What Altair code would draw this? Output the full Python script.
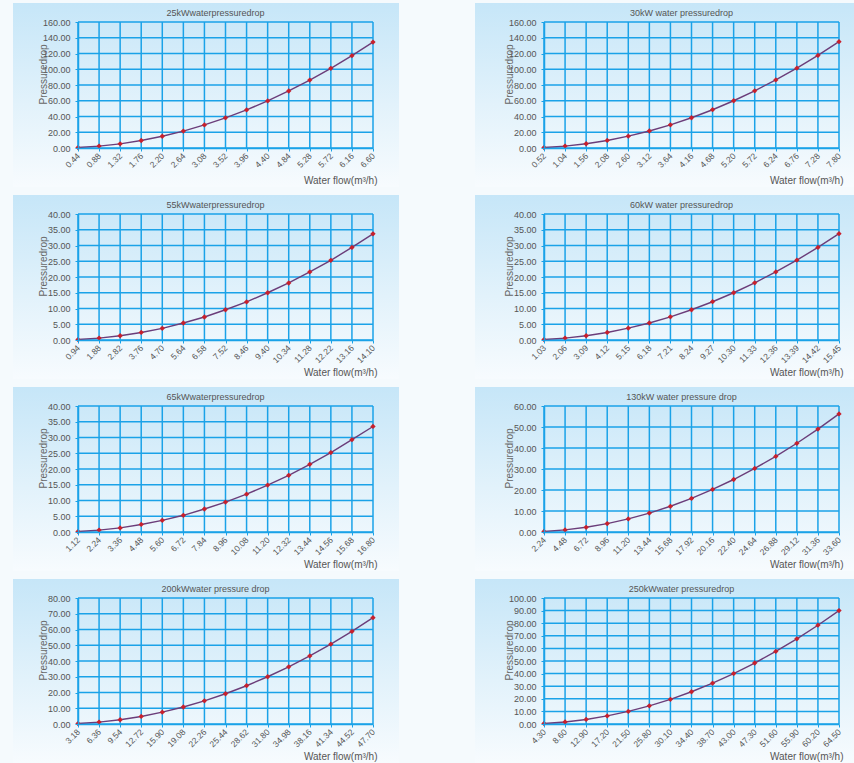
import altair as alt
import pandas as pd

titles = ["25kWwaterpressuredrop", "30kW water pressuredrop", "55kWwaterpressuredrop", "60kW water pressuredrop",
          "65kWwaterpressuredrop", "130kW water pressure drop", "200kWwater pressure drop", "250kWwater pressuredrop"]

x25 = [0.44, 0.88, 1.32, 1.76, 2.20, 2.64, 3.08, 3.52, 3.96, 4.40, 4.84, 5.28, 5.72, 6.16, 6.60]
x30 = [0.52, 1.04, 1.56, 2.08, 2.60, 3.12, 3.64, 4.16, 4.68, 5.20, 5.72, 6.24, 6.76, 7.28, 7.80]
x55 = [0.94, 1.88, 2.82, 3.76, 4.70, 5.64, 6.58, 7.52, 8.46, 9.40, 10.34, 11.28, 12.22, 13.16, 14.10]
x60 = [1.03, 2.06, 3.09, 4.12, 5.15, 6.18, 7.21, 8.24, 9.27, 10.30, 11.33, 12.36, 13.39, 14.42, 15.45]
x65 = [1.12, 2.24, 3.36, 4.48, 5.60, 6.72, 7.84, 8.96, 10.08, 11.20, 12.32, 13.44, 14.56, 15.68, 16.80]
x130 = [2.24, 4.48, 6.72, 8.96, 11.20, 13.44, 15.68, 17.92, 20.16, 22.40, 24.64, 26.88, 29.12, 31.36, 33.60]
x200 = [3.18, 6.36, 9.54, 12.72, 15.90, 19.08, 22.26, 25.44, 28.62, 31.80, 34.98, 38.16, 41.34, 44.52, 47.70]
x250 = [4.30, 8.60, 12.90, 17.20, 21.50, 25.80, 30.10, 34.40, 38.70, 43.00, 47.30, 51.60, 55.90, 60.20, 64.50]

y25 = [0.6, 2.4, 5.3, 9.5, 14.9, 21.5, 29.3, 38.3, 48.4, 59.8, 72.4, 86.2, 101.2, 117.3, 134.5]
y30 = [0.6, 2.4, 5.4, 9.6, 15.0, 21.6, 29.4, 38.4, 48.6, 60.0, 72.6, 86.4, 101.4, 117.6, 135.0]
y55 = [0.15, 0.6, 1.35, 2.4, 3.7, 5.4, 7.3, 9.6, 12.1, 15.0, 18.1, 21.6, 25.3, 29.4, 33.7]
y60 = [0.15, 0.6, 1.35, 2.4, 3.75, 5.4, 7.35, 9.6, 12.15, 15.0, 18.15, 21.6, 25.35, 29.4, 33.75]
y65 = [0.15, 0.6, 1.3, 2.4, 3.7, 5.3, 7.3, 9.5, 12.0, 14.9, 18.0, 21.5, 25.2, 29.3, 33.5]
y130 = [0.25, 1.0, 2.25, 4.0, 6.25, 9.0, 12.25, 16.0, 20.25, 25.0, 30.25, 36.0, 42.25, 49.0, 56.25]
y200 = [0.3, 1.2, 2.7, 4.8, 7.5, 10.8, 14.7, 19.2, 24.3, 30.0, 36.3, 43.2, 50.7, 58.8, 67.5]
y250 = [0.4, 1.6, 3.6, 6.4, 10.0, 14.4, 19.6, 25.6, 32.4, 40.0, 48.4, 57.6, 67.6, 78.4, 90.0]

yt160 = [0, 20, 40, 60, 80, 100, 120, 140, 160]
yt40 = [0, 5, 10, 15, 20, 25, 30, 35, 40]
yt60 = [0, 10, 20, 30, 40, 50, 60]
yt80 = [0, 10, 20, 30, 40, 50, 60, 70, 80]
yt100 = [0, 10, 20, 30, 40, 50, 60, 70, 80, 90, 100]

panels = [
    (titles[0], x25, y25, yt160),
    (titles[1], x30, y30, yt160),
    (titles[2], x55, y55, yt40),
    (titles[3], x60, y60, yt40),
    (titles[4], x65, y65, yt40),
    (titles[5], x130, y130, yt60),
    (titles[6], x200, y200, yt80),
    (titles[7], x250, y250, yt100),
]

W, H = 295, 126
GRID = "#1aa2e8"
FONT = "Liberation Sans"

bg_grad = alt.LinearGradient(
    gradient="linear", x1=0, y1=0, x2=0, y2=1,
    stops=[alt.GradientStop(offset=0, color="#c6e6f8"),
           alt.GradientStop(offset=0.55, color="#e2f2fb"),
           alt.GradientStop(offset=1, color="#f7fbfe")])


def panel(title, xs, ys, yticks, col):
    df = pd.DataFrame({"x": xs, "y": ys})
    tdf = pd.DataFrame({"y": yticks})
    xenc = alt.X("x:Q", scale=alt.Scale(domain=[xs[0], xs[-1]], nice=False, zero=False),
                 axis=alt.Axis(values=xs, format=".2f", labelAngle=-45, labelAlign="right",
                               labelBaseline="middle", labelFontSize=8.5, labelPadding=3, zindex=2,
                               title="Water flow(m³/h)", titleFontSize=10, titleFontWeight="normal",
                               titleColor="#555", titleAnchor="end", titleAlign="right",
                               titleX=W + 4, titleY=35, titleBaseline="alphabetic"))
    yenc = alt.Y("y:Q", scale=alt.Scale(domain=[yticks[0], yticks[-1]], nice=False, zero=True),
                 axis=alt.Axis(values=yticks, format=".2f", labelFontSize=9, labelPadding=5, zindex=2,
                               title="Pressuredrop", titleFontSize=10, titleFontWeight="normal",
                               titleColor="#666", titleX=-35, titleY=52, titleAngle=-90,
                               titleAlign="center", titleBaseline="middle"))
    x0, x1 = (-65, 321) if col == 0 else (-69, 310)
    one = alt.Data(values=[{"t": title}])
    bg = alt.Chart(one).mark_rect(fill=bg_grad).encode(
        x=alt.value(x0), x2=alt.value(x1), y=alt.value(-19), y2=alt.value(165))
    ttl = alt.Chart(one).mark_text(fontSize=9, color="#555", font=FONT, align="center",
                                   baseline="alphabetic").encode(
        text="t:N", x=alt.value(W / 2 - 10), y=alt.value(-6))
    vgrid = alt.Chart(df).mark_rule(color=GRID, strokeWidth=1.5).encode(x=xenc)
    hgrid = alt.Chart(tdf).mark_rule(color=GRID, strokeWidth=1.5).encode(y=yenc)
    line = alt.Chart(df).mark_line(color="#6b3d7a", strokeWidth=1.4).encode(x=xenc, y=yenc)
    pts = alt.Chart(df).mark_point(shape="diamond", filled=True, color="#c8202c", size=28, opacity=1).encode(
        x=xenc, y=yenc)
    return alt.layer(bg, ttl, vgrid, hgrid, line, pts).properties(width=W, height=H)


charts = [panel(t, xs, ys, yt, i % 2) for i, (t, xs, ys, yt) in enumerate(panels)]

chart = alt.concat(*charts, columns=2, spacing={"row": 8, "column": 76}).properties(
    padding={"left": 13, "top": 3, "right": 0, "bottom": 0},
    background="#f5fafd",
).configure_view(strokeWidth=0).configure_axis(
    grid=False, domainColor=GRID, domainWidth=1.5, tickColor=GRID, tickSize=3,
    labelColor="#555", labelFont=FONT, titleFont=FONT,
)

chart.save("out.html", embed_options={"renderer": "svg", "actions": False})
